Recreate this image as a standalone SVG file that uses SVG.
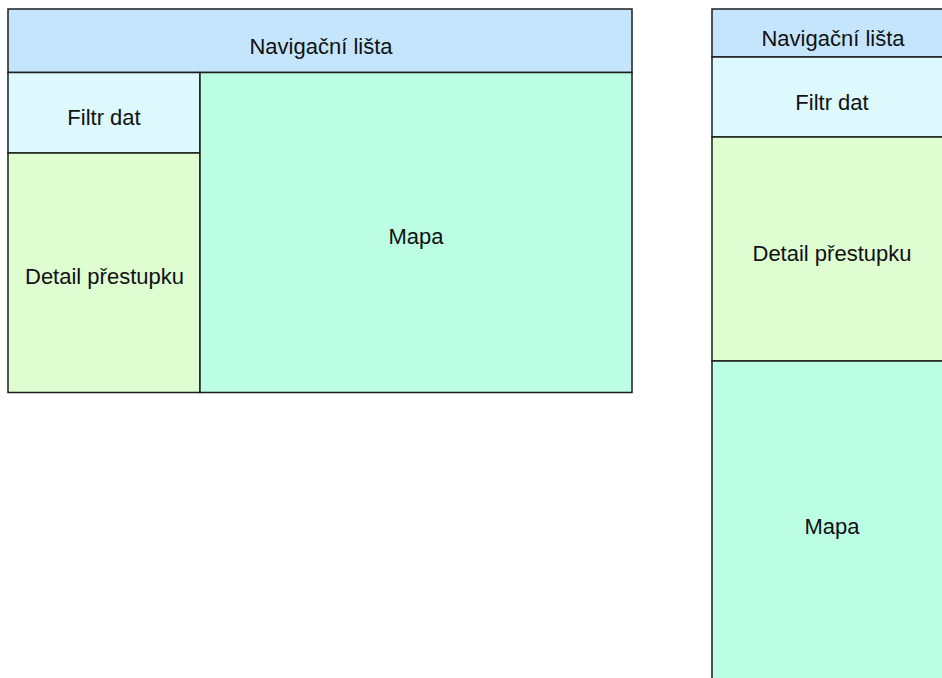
<svg xmlns="http://www.w3.org/2000/svg" width="942" height="678" viewBox="0 0 942 678">
<style>
rect{stroke:#1e1e1e;stroke-width:1.5}
.nav{fill:#c4e5fd}.flt{fill:#ddf9fe}.det{fill:#defdd1}.map{fill:#bbfee4}
text{font-family:"Liberation Sans",Arial,sans-serif;font-size:22px;fill:#111;text-anchor:middle}
</style>
<rect width="942" height="678" fill="#fff" style="stroke:none"/>
<g id="desktop">
<g id="d-nav"><rect class="nav" x="8" y="9" width="624" height="63.5"/><text x="321" y="54">Navigační lišta</text></g>
<g id="d-filtr"><rect class="flt" x="8" y="72.5" width="192" height="80.5"/><text x="104" y="125">Filtr dat</text></g>
<g id="d-detail"><rect class="det" x="8" y="153" width="192" height="239.5"/><text x="104.5" y="284">Detail přestupku</text></g>
<g id="d-mapa"><rect class="map" x="200" y="72.5" width="432" height="320"/><text x="416" y="243.5">Mapa</text></g>
</g>
<g id="mobile">
<g id="m-nav"><rect class="nav" x="712" y="9" width="240" height="48"/><text x="833" y="45.5">Navigační lišta</text></g>
<g id="m-filtr"><rect class="flt" x="712" y="57" width="240" height="80"/><text x="832" y="110">Filtr dat</text></g>
<g id="m-detail"><rect class="det" x="712" y="137" width="240" height="224"/><text x="832" y="261">Detail přestupku</text></g>
<g id="m-mapa"><rect class="map" x="712" y="361" width="240" height="330"/><text x="832" y="533.5">Mapa</text></g>
</g>
<g id="connectors"/>
</svg>
